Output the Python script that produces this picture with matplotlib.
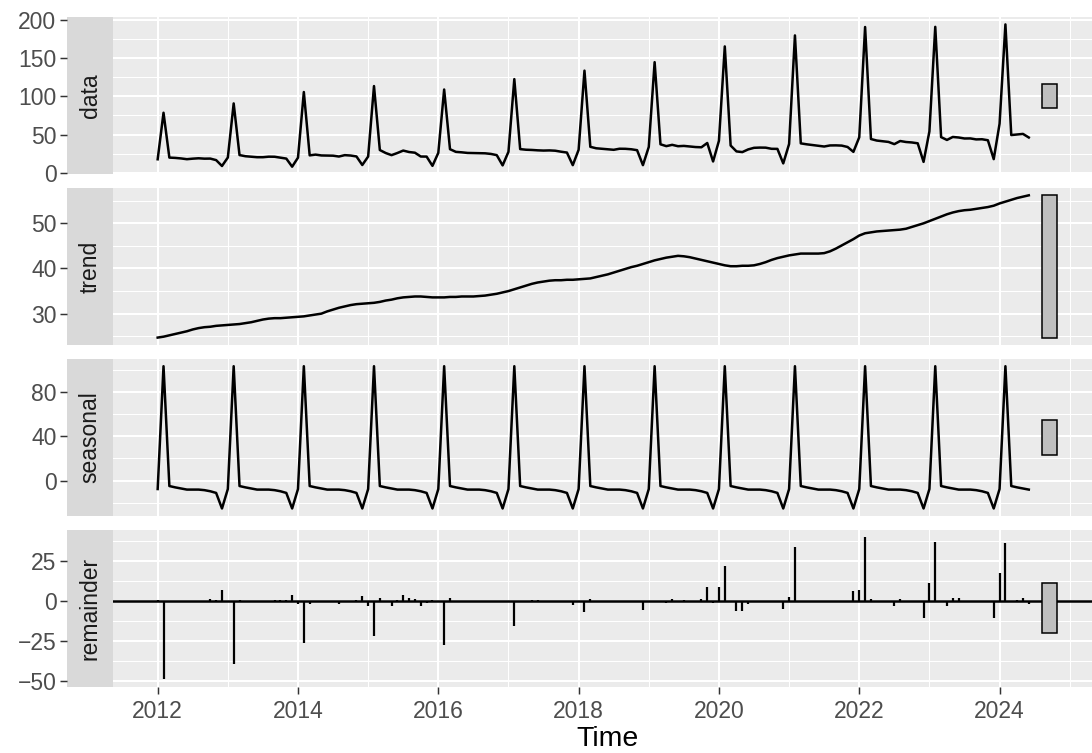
import matplotlib
matplotlib.use("Agg")
import matplotlib.pyplot as plt
import numpy as np
from matplotlib.ticker import FixedLocator

plt.rcParams['font.family'] = ['Liberation Sans', 'DejaVu Sans']

# monthly series, Jan 2012 - Jun 2024
start_year = 2012
panel_names = ['data', 'trend', 'seasonal', 'remainder']

data = [
    17.7, 78.6, 19.9, 19.5, 18.8, 17.8, 18.5, 19.0, 18.5, 18.6, 16.6, 8.9,
    20.0, 90.8, 23.2, 21.7, 21.1, 20.4, 20.4, 21.1, 21.0, 19.8, 18.6, 8.0,
    19.8, 105.7, 22.8, 23.8, 22.7, 22.5, 22.4, 21.3, 23.1, 22.6, 21.4, 10.2,
    21.3, 113.5, 29.8, 25.9, 23.1, 25.9, 29.1, 27.2, 26.3, 21.3, 21.2, 9.1,
    26.1, 109.0, 30.9, 27.4, 26.8, 26.0, 25.8, 25.6, 25.5, 24.7, 23.1, 9.7,
    27.5, 122.6, 31.0, 30.2, 29.9, 29.4, 29.1, 29.3, 28.9, 27.6, 26.5, 10.0,
    30.1, 133.7, 34.0, 32.1, 31.4, 30.7, 30.1, 31.5, 31.4, 30.8, 29.6, 10.0,
    33.9, 144.8, 37.3, 34.9, 36.6, 34.8, 35.2, 34.5, 33.7, 33.4, 39.0, 14.8,
    41.9, 165.4, 35.7, 28.0, 27.1, 30.6, 32.7, 33.0, 32.9, 31.4, 31.3, 12.3,
    37.7, 179.8, 38.5, 37.3, 36.3, 35.3, 34.4, 35.8, 35.9, 35.6, 33.8, 27.4,
    46.5, 190.8, 44.2, 42.2, 41.3, 40.4, 37.5, 41.6, 40.3, 39.7, 38.6, 14.3,
    54.2, 191.0, 46.7, 43.0, 46.9, 46.2, 44.9, 45.0, 43.7, 43.9, 42.6, 17.9,
    64.2, 194.2, 49.4, 50.1, 50.9, 46.2,
]

trend = [
    24.7, 24.9, 25.2, 25.5, 25.8, 26.1, 26.5, 26.8, 27.0, 27.1, 27.3, 27.4,
    27.5, 27.6, 27.7, 27.9, 28.1, 28.4, 28.7, 28.9, 29.0, 29.0, 29.1, 29.2,
    29.3, 29.4, 29.6, 29.8, 30.0, 30.5, 30.9, 31.3, 31.6, 31.9, 32.1, 32.2,
    32.3, 32.4, 32.6, 32.9, 33.1, 33.4, 33.6, 33.7, 33.8, 33.8, 33.7, 33.6,
    33.6, 33.6, 33.7, 33.7, 33.8, 33.8, 33.8, 33.9, 34.0, 34.2, 34.4, 34.7,
    35.0, 35.4, 35.8, 36.2, 36.6, 36.9, 37.1, 37.3, 37.4, 37.4, 37.5, 37.5,
    37.6, 37.7, 37.8, 38.1, 38.4, 38.7, 39.1, 39.5, 39.9, 40.3, 40.6, 41.0,
    41.4, 41.8, 42.1, 42.4, 42.6, 42.8, 42.7, 42.5, 42.2, 41.9, 41.6, 41.3,
    41.0, 40.7, 40.5, 40.5, 40.6, 40.6, 40.7, 41.0, 41.4, 41.9, 42.3, 42.6,
    42.9, 43.1, 43.3, 43.3, 43.3, 43.3, 43.4, 43.8, 44.4, 45.1, 45.8, 46.5,
    47.3, 47.8, 48.0, 48.2, 48.3, 48.4, 48.5, 48.6, 48.8, 49.2, 49.6, 50.0,
    50.5, 51.0, 51.5, 52.0, 52.4, 52.7, 52.9, 53.0, 53.2, 53.4, 53.6, 53.9,
    54.4, 54.8, 55.2, 55.6, 55.9, 56.2,
]

seasonal = [
    -7.5, 103.0, -4.8, -6.0, -7.0, -8.0, -8.0, -8.0, -8.5, -9.5, -11.0, -25.0,
    -7.5, 103.0, -4.8, -6.0, -7.0, -8.0, -8.0, -8.0, -8.5, -9.5, -11.0, -25.0,
    -7.5, 103.0, -4.8, -6.0, -7.0, -8.0, -8.0, -8.0, -8.5, -9.5, -11.0, -25.0,
    -7.5, 103.0, -4.8, -6.0, -7.0, -8.0, -8.0, -8.0, -8.5, -9.5, -11.0, -25.0,
    -7.5, 103.0, -4.8, -6.0, -7.0, -8.0, -8.0, -8.0, -8.5, -9.5, -11.0, -25.0,
    -7.5, 103.0, -4.8, -6.0, -7.0, -8.0, -8.0, -8.0, -8.5, -9.5, -11.0, -25.0,
    -7.5, 103.0, -4.8, -6.0, -7.0, -8.0, -8.0, -8.0, -8.5, -9.5, -11.0, -25.0,
    -7.5, 103.0, -4.8, -6.0, -7.0, -8.0, -8.0, -8.0, -8.5, -9.5, -11.0, -25.0,
    -7.5, 103.0, -4.8, -6.0, -7.0, -8.0, -8.0, -8.0, -8.5, -9.5, -11.0, -25.0,
    -7.5, 103.0, -4.8, -6.0, -7.0, -8.0, -8.0, -8.0, -8.5, -9.5, -11.0, -25.0,
    -7.5, 103.0, -4.8, -6.0, -7.0, -8.0, -8.0, -8.0, -8.5, -9.5, -11.0, -25.0,
    -7.5, 103.0, -4.8, -6.0, -7.0, -8.0, -8.0, -8.0, -8.5, -9.5, -11.0, -25.0,
    -7.5, 103.0, -4.8, -6.0, -7.0, -8.0,
]

remainder = [
    0.5, -49.3, -0.5, 0.0, 0.0, -0.3, 0.0, 0.2, 0.0, 1.0, 0.3, 6.5,
    0.0, -39.8, 0.3, -0.2, 0.0, 0.0, -0.3, 0.2, 0.5, 0.3, 0.5, 3.8,
    -2.0, -26.7, -2.0, 0.0, -0.3, 0.0, -0.5, -2.0, 0.0, 0.2, 0.3, 3.0,
    -3.5, -21.9, 2.0, -1.0, -3.0, 0.5, 3.5, 1.5, 1.0, -3.0, -1.5, 0.5,
    0.0, -27.6, 2.0, -0.3, 0.0, 0.2, 0.0, -0.3, 0.0, 0.0, -0.3, 0.0,
    0.0, -15.8, 0.0, 0.0, 0.3, 0.5, 0.0, 0.0, 0.0, -0.3, 0.0, -2.5,
    0.0, -7.0, 1.0, 0.0, 0.0, 0.0, -1.0, 0.0, 0.0, 0.0, 0.0, -6.0,
    0.0, 0.0, 0.0, -1.5, 1.0, 0.0, 0.5, 0.0, 0.0, 1.0, 8.4, -1.5,
    8.4, 21.7, 0.0, -6.5, -6.5, -2.0, 0.0, 0.0, 0.0, -1.0, 0.0, -5.3,
    2.3, 33.7, 0.0, 0.0, 0.0, 0.0, -1.0, 0.0, 0.0, 0.0, -1.0, 5.9,
    6.7, 40.0, 1.0, 0.0, 0.0, 0.0, -3.0, 1.0, 0.0, 0.0, 0.0, -10.7,
    11.2, 37.0, 0.0, -3.0, 1.5, 1.5, 0.0, 0.0, -1.0, 0.0, 0.0, -11.0,
    17.3, 36.4, -1.0, 0.5, 2.0, -2.0,
]

x_major = [2012, 2014, 2016, 2018, 2020, 2022, 2024]
x_minor = [2013, 2015, 2017, 2019, 2021, 2023, 2025]
y_major = [[0, 50, 100, 150, 200], [30, 40, 50], [0, 40, 80], [-50, -25, 0, 25]]
y_minor = [[25, 75, 125, 175], [25, 35, 45, 55], [-20, 20, 60, 100],
           [-37.5, -12.5, 12.5, 37.5]]

series = [data, trend, seasonal, remainder]
time = start_year + np.arange(len(data)) / 12.0

W, H = 1092, 753
fig = plt.figure(figsize=(W / 100, H / 100), dpi=100)

panel_left, panel_right = 112.7, 1102.0
strip_left = 67.3
tops = [17.3, 188.2, 359.1, 530.0]
ph = 156.5

bar_len = max(trend) - min(trend)
bar_x, bar_w = 2024.71, 0.21

for i, (name, ys) in enumerate(zip(panel_names, series)):
    bottom = 1 - (tops[i] + ph) / H
    ax = fig.add_axes([panel_left / W, bottom, (panel_right - panel_left) / W, ph / H])
    sax = fig.add_axes([strip_left / W, bottom, (panel_left - strip_left) / W, ph / H],
                       sharey=ax)
    ax.set_facecolor('#EBEBEB')
    sax.set_facecolor('#D9D9D9')
    for a in (ax, sax):
        for s in a.spines.values():
            s.set_visible(False)

    if name == 'remainder':
        ax.axhline(0, color='black', lw=1.8, zorder=3)
        ax.vlines(time, 0, ys, color='black', lw=1.6, zorder=3)
    else:
        ax.plot(time, ys, color='black', lw=1.8, zorder=3)

    lo, hi = min(ys), max(ys)
    mid = (lo + hi) / 2
    ax.bar(bar_x, bar_len, bottom=mid - bar_len / 2, width=bar_w,
           color='#BFBFBF', edgecolor='black', linewidth=1.1, zorder=4)

    # ggplot-style 5% expansion
    pad = 0.05 * (hi - lo)
    ax.set_ylim(lo - pad, hi + pad)
    ax.set_xlim(2011.359, 2025.46)
    ax.yaxis.set_major_locator(FixedLocator(y_major[i]))
    ax.yaxis.set_minor_locator(FixedLocator(y_minor[i]))
    ax.xaxis.set_major_locator(FixedLocator(x_major))
    ax.xaxis.set_minor_locator(FixedLocator(x_minor))
    ax.grid(which='major', color='white', lw=1.45, zorder=0)
    ax.grid(which='minor', color='white', lw=0.75, zorder=0)
    ax.set_axisbelow(True)
    ax.tick_params(axis='y', which='both', left=False, labelleft=False)
    ax.tick_params(axis='x', which='minor', length=0)
    if i < 3:
        ax.tick_params(axis='x', which='major', bottom=False, labelbottom=False)
    else:
        ax.tick_params(axis='x', which='major', length=4.8, width=1.07, color='#333333',
                       labelsize=16.5, labelcolor='#4D4D4D', pad=5)
        ax.set_xlabel('Time', fontsize=20.5, color='black', labelpad=2)

    sax.set_xticks([])
    sax.tick_params(axis='y', which='minor', length=0)
    sax.tick_params(axis='y', which='major', length=4.8, width=1.07, color='#333333',
                    labelsize=16.5, labelcolor='#4D4D4D', pad=3)
    sax.text(0.5, 0.5, name, rotation=90, ha='center', va='center',
             transform=sax.transAxes, fontsize=16.5, color='#1A1A1A')

fig.savefig('out.png', dpi=100)
